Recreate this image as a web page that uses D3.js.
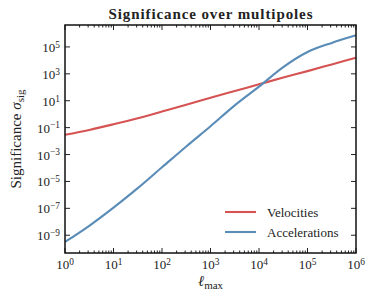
<!DOCTYPE html>
<html>
<head>
<meta charset="utf-8">
<script src="https://cdn.jsdelivr.net/npm/d3@7"></script>
<style>
  body { margin: 0; background: #fff; }
  svg text { font-family: "Liberation Serif", "DejaVu Serif", serif; fill: #222; }
</style>
</head>
<body>
<div id="chart"></div>
<script>
// multipole values l_max (half-decade steps)
const ellMax = [1, 3.162, 10, 31.62, 100, 316.2, 1e3, 3162, 1e4, 31620, 1e5, 316200, 1e6];
// significance
const velocities = [0.0295, 0.0676, 0.178, 0.501, 1.58, 5.01, 16.6, 52.5, 166, 525, 1585, 5012, 15850];
const accelerations = [3.16e-10, 5.01e-9, 1.12e-7, 3.16e-6, 1.12e-4, 3.98e-3, 0.126, 4.47, 112, 3162, 41690, 199500, 724400];
const seriesNames = ["Velocities", "Accelerations"];
const seriesColors = ["#d65353", "#5a8cb8"];
const xTicks = [1, 10, 100, 1e3, 1e4, 1e5, 1e6];
const yTicks = [1e-9, 1e-7, 1e-5, 1e-3, 1e-1, 10, 1e3, 1e5];

const width = 374, height = 304;
const margin = {top: 25, right: 18, bottom: 51, left: 65};
const w = width - margin.left - margin.right;
const h = height - margin.top - margin.bottom;

const svg = d3.select("#chart").append("svg")
  .attr("width", width).attr("height", height);

const g = svg.append("g")
  .attr("transform", "translate(" + margin.left + "," + margin.top + ")");

const x = d3.scaleLog().domain([1, 1e6]).range([0, w]);
const y = d3.scaleLog().domain([Math.pow(10, -10.32), Math.pow(10, 6.63)]).range([h, 0]);

// minor x ticks 2..9 per decade
const xMinor = [];
for (let e = 0; e < 6; e++) for (let m = 2; m <= 9; m++) xMinor.push(m * Math.pow(10, e));

const supLabel = (sel, v) => {
  const p = Math.round(Math.log10(v));
  sel.text("10");
  sel.append("tspan").attr("dy", "-0.45em").attr("font-size", "0.72em")
    .text(p < 0 ? "\u2212" + (-p) : p);
};

// lines
const line = d3.line()
  .x((d) => x(d[0]))
  .y((d) => y(d[1]))
  .curve(d3.curveMonotoneX);

[velocities, accelerations].forEach((vals, i) => {
  g.append("path")
    .datum(ellMax.map((l, j) => [l, vals[j]]))
    .attr("fill", "none")
    .attr("stroke", seriesColors[i])
    .attr("stroke-width", 2.1)
    .attr("d", line);
});

// ticks (inside, all four sides)
const tk = g.append("g").attr("stroke", "#222");
xTicks.forEach((t) => {
  tk.append("line").attr("x1", x(t)).attr("x2", x(t)).attr("y1", h).attr("y2", h - 5);
  tk.append("line").attr("x1", x(t)).attr("x2", x(t)).attr("y1", 0).attr("y2", 5);
});
xMinor.forEach((t) => {
  tk.append("line").attr("x1", x(t)).attr("x2", x(t)).attr("y1", h).attr("y2", h - 2.5);
  tk.append("line").attr("x1", x(t)).attr("x2", x(t)).attr("y1", 0).attr("y2", 2.5);
});
yTicks.forEach((t) => {
  tk.append("line").attr("x1", 0).attr("x2", 5).attr("y1", y(t)).attr("y2", y(t));
  tk.append("line").attr("x1", w).attr("x2", w - 5).attr("y1", y(t)).attr("y2", y(t));
});

// tick labels
g.selectAll(".xl").data(xTicks).enter().append("text")
  .attr("class", "xl")
  .attr("x", (d) => x(d))
  .attr("y", h + 16)
  .attr("text-anchor", "middle")
  .attr("font-size", 13)
  .each(function (d) { supLabel(d3.select(this), d); });

g.selectAll(".yl").data(yTicks).enter().append("text")
  .attr("class", "yl")
  .attr("x", -5)
  .attr("y", (d) => y(d) + 5)
  .attr("text-anchor", "end")
  .attr("font-size", 13)
  .each(function (d) { supLabel(d3.select(this), d); });

// frame
g.append("rect")
  .attr("width", w).attr("height", h)
  .attr("fill", "none").attr("stroke", "#111").attr("stroke-width", 1.5);

// title
svg.append("text")
  .attr("x", margin.left + w / 2)
  .attr("y", 19)
  .attr("text-anchor", "middle")
  .attr("font-size", 15)
  .attr("font-weight", "bold")
  .attr("textLength", 204)
  .attr("lengthAdjust", "spacing")
  .text("Significance over multipoles");

// axis labels
const xl = svg.append("text")
  .attr("x", margin.left + w / 2)
  .attr("y", 286)
  .attr("text-anchor", "middle")
  .attr("font-size", 15);
xl.append("tspan").attr("font-style", "italic").text("\u2113");
xl.append("tspan").attr("font-size", 11).attr("dy", 3).text("max");

const yl = svg.append("text")
  .attr("transform", "translate(21," + (margin.top + h / 2) + ") rotate(-90)")
  .attr("text-anchor", "middle")
  .attr("font-size", 15);
yl.append("tspan").text("Significance ");
yl.append("tspan").attr("font-style", "italic").text("\u03c3");
yl.append("tspan").attr("font-size", 11).attr("dy", 3).text("sig");

// legend
const leg = svg.append("g");
seriesNames.forEach((name, i) => {
  const ly = 212 + i * 20;
  leg.append("line")
    .attr("x1", 225).attr("x2", 256).attr("y1", ly).attr("y2", ly)
    .attr("stroke", seriesColors[i]).attr("stroke-width", 2.1);
  leg.append("text")
    .attr("x", 267).attr("y", ly + 4.5)
    .attr("font-size", 13)
    .text(name);
});
</script>
</body>
</html>
